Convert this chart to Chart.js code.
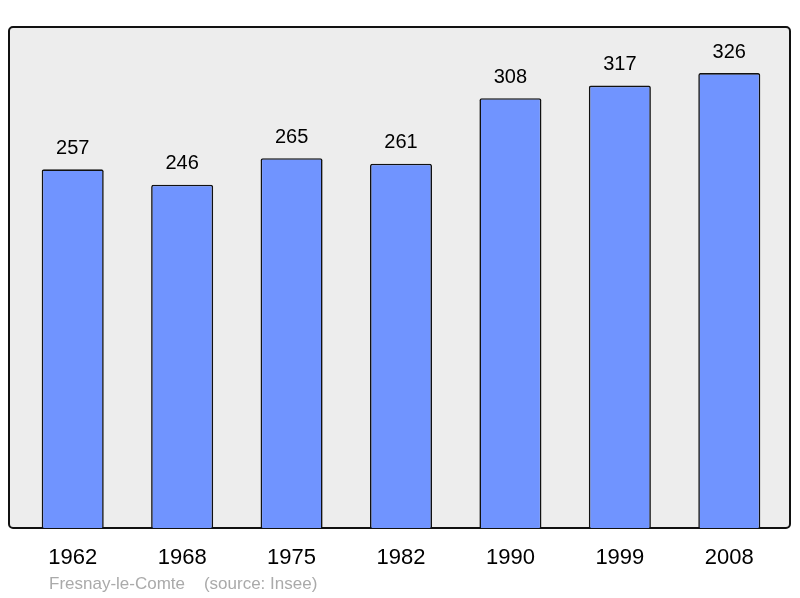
<!DOCTYPE html>
<html><head><meta charset="utf-8">
<script src="https://cdn.jsdelivr.net/npm/chart.js@4"></script>
<style>html,body{margin:0;padding:0;background:#fff}#wrap{width:800px;height:598px}</style>
</head><body><div id="wrap"><canvas id="c" width="800" height="598"></canvas></div>
<script>
const years = ["1962","1968","1975","1982","1990","1999","2008"];
const population = [257,246,265,261,308,317,326];
const footerText = "Fresnay-le-Comte    (source: Insee)";

const framePlugin = {
  id:'frame',
  beforeDraw(chart){
    const ctx = chart.ctx;
    ctx.save();
    ctx.fillStyle='#fff';ctx.fillRect(0,0,chart.width,chart.height);
    const x=9,y=27,w=781,h=501,r=4;
    ctx.beginPath();
    ctx.roundRect(x,y,w,h,r);
    ctx.fillStyle='#ededed';ctx.fill();
    ctx.lineWidth=2;ctx.strokeStyle='#111';ctx.stroke();
    ctx.restore();
  },
  afterDatasetsDraw(chart){
    const ctx=chart.ctx;
    ctx.save();
    ctx.font='20px "Liberation Sans", Arial, sans-serif';
    ctx.fillStyle='#000';ctx.textAlign='center';ctx.textBaseline='middle';
    chart.getDatasetMeta(0).data.forEach((bar,i)=>{
      ctx.fillText(String(population[i]), bar.x, bar.y-21);
    });
    ctx.font='17px "Liberation Sans", Arial, sans-serif';
    ctx.fillStyle='#aaaaaa';ctx.textAlign='left';
    ctx.fillText(footerText, 49, 584);
    ctx.restore();
  }
};

new Chart(document.getElementById('c'),{
  type:'bar',
  data:{labels:years,datasets:[{data:population,backgroundColor:'#7094ff',borderColor:'#111',borderWidth:1.6,borderRadius:2,borderSkipped:'bottom',barPercentage:0.567,categoryPercentage:1}]},
  options:{
    responsive:false,animation:false,
    layout:{padding:{left:18,right:16,top:27,bottom:0}},
    plugins:{legend:{display:false},tooltip:{enabled:false}},
    scales:{
      x:{grid:{display:false},border:{display:false},
         ticks:{color:'#000',padding:9,font:{family:'"Liberation Sans", Arial, sans-serif',size:22}},
         afterFit(s){s.height=70;}},
      y:{display:false,min:0,max:359,
         afterFit(s){s.width=0;}}
    }
  },
  plugins:[framePlugin]
});
</script></body></html>
